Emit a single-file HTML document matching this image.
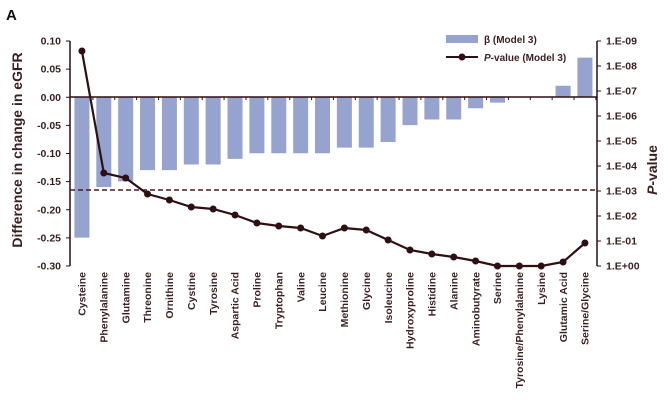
<!DOCTYPE html>
<html><head><style>body{margin:0;background:#fff}</style></head><body>
<svg width="670" height="415" xmlns="http://www.w3.org/2000/svg" font-family="Liberation Sans, sans-serif" font-weight="bold" fill="#3a1f22">
<text x="6" y="20" font-size="15" fill="#111">A</text>
<g id="bars" fill="#97a3cf"></g>
<line x1="70" y1="97" x2="597" y2="97" stroke="#2a0f12" stroke-width="1.5"/>
<line x1="70" y1="41" x2="70" y2="266" stroke="#2a0f12" stroke-width="1.5"/>
<line x1="597" y1="41" x2="597" y2="266" stroke="#2a0f12" stroke-width="1.5"/>
<line x1="70" y1="190" x2="597" y2="190" stroke="#4a1a1e" stroke-width="1.5" stroke-dasharray="5,3"/>
<g id="ticks" font-size="10.5"></g>
<polyline id="pl" fill="none" stroke="#2e0f12" stroke-width="2.2"/>
<g id="dots" fill="#2e0f12"></g>
<g id="lab" font-size="10.5"></g>
<text transform="translate(22,150) rotate(-90)" text-anchor="middle" font-size="14">Difference in change in eGFR</text>
<text transform="translate(657,170) rotate(-90)" text-anchor="middle" font-size="14"><tspan font-style="italic">P</tspan>-value</text>
<rect x="446" y="35" width="32" height="8" fill="#97a3cf"/>
<text x="484" y="43" font-size="10">β (Model 3)</text>
<line x1="446" y1="57" x2="478" y2="57" stroke="#2e0f12" stroke-width="2"/>
<circle cx="462" cy="57" r="3.5" fill="#2e0f12"/>
<text x="484" y="61" font-size="10"><tspan font-style="italic">P</tspan>-value (Model 3)</text>
</svg>
<script>
const names=["Cysteine","Phenylalanine","Glutamine","Threonine","Ornithine","Cystine","Tyrosine","Aspartic Acid","Proline","Tryptophan","Valine","Leucine","Methionine","Glycine","Isoleucine","Hydroxyproline","Histidine","Alanine","Aminobutyrate","Serine","Tyrosine/Phenylalanine","Lysine","Glutamic Acid","Serine/Glycine"];
const b=[-0.25,-0.16,-0.15,-0.13,-0.13,-0.12,-0.12,-0.11,-0.10,-0.10,-0.10,-0.10,-0.09,-0.09,-0.08,-0.05,-0.04,-0.04,-0.02,-0.01,0,0,0.02,0.07];
const py=[51,173,178,194,200,207,209,215,223,226,228,236,228,230,240,250,254,257,261,266,266,266,262,243];
const ns="http://www.w3.org/2000/svg";
function el(t,a,p,txt){const e=document.createElementNS(ns,t);for(const k in a)e.setAttribute(k,a[k]);if(txt!=null)e.textContent=txt;document.getElementById(p).appendChild(e);return e;}
const w=21.87,x0=71,y0=97,s=562.5;let pts=[];
names.forEach((n,i)=>{const cx=x0+w*(i+0.5);const v=b[i];
 if(v!=0){const y=y0-v*s;el("rect",{x:cx-7.5,y:Math.min(y,y0),width:15,height:Math.abs(y-y0)},"bars");}
 el("line",{x1:x0+w*(i+1),y1:97,x2:x0+w*(i+1),y2:100,stroke:"#2a0f12"},"ticks");
 pts.push(cx+","+py[i]);el("circle",{cx:cx,cy:py[i],r:3.5},"dots");
 el("text",{transform:`translate(${cx+3.7},272) rotate(-90)`,"text-anchor":"end"},"lab",n);});
document.getElementById("pl").setAttribute("points",pts.join(" "));
for(let k=0;k<=8;k++){const y=41+k*28.125;const v=(0.10-k*0.05).toFixed(2);
 el("line",{x1:66,y1:y,x2:70,y2:y,stroke:"#2a0f12"},"ticks");
 el("text",{x:61,y:y+3.5,"text-anchor":"end"},"ticks",v);}
for(let k=0;k<=9;k++){const y=41+k*25;
 el("line",{x1:597,y1:y,x2:601,y2:y,stroke:"#2a0f12"},"ticks");
 el("text",{x:606,y:y+3.5},"ticks",k==9?"1.E+00":"1.E-0"+(9-k));}
</script>
</body></html>
